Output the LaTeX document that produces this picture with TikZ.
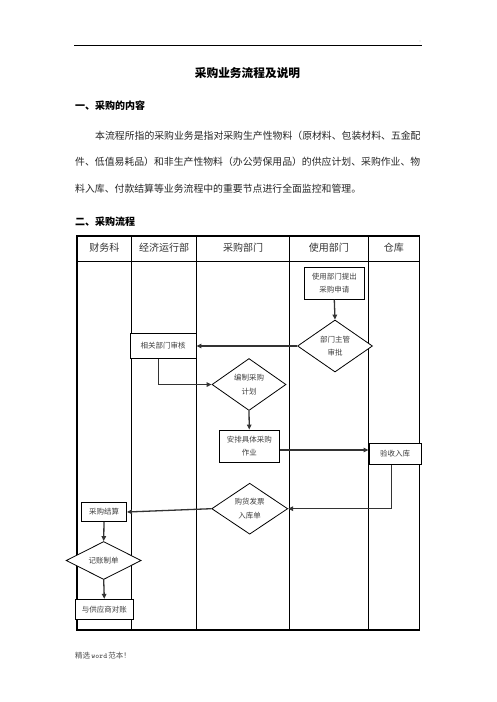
\documentclass[tikz,border=0pt]{standalone}
\usepackage{fontspec}
\newfontfamily\cjk{Noto Sans CJK SC}
\usetikzlibrary{shapes.geometric,arrows.meta}
\begin{document}
\begin{tikzpicture}[x=1pt,y=-1pt,
  lane/.style={line width=1.1pt},
  boxn/.style={draw,line width=0.9pt,fill=white,inner sep=0pt,align=center,
    font=\cjk\fontsize{7.5}{13.3}\selectfont,text=black!75},
  dia/.style={draw,diamond,line width=0.8pt,fill=white,inner sep=0pt,aspect=1.5,align=center,
    font=\cjk\fontsize{7.5}{13.3}\selectfont,text=black!75},
  arr/.style={line width=1.3pt,draw=black!80,-{Triangle[length=5pt,width=4.5pt]}},
  hdr/.style={font=\cjk\fontsize{10}{12}\selectfont,text=black!80},
  para/.style={anchor=west,inner sep=0pt,font=\cjk\fontsize{9.86}{12}\selectfont,text=black!85},
  head/.style={anchor=west,inner sep=0pt,font=\cjk\bfseries\fontsize{10}{12}\selectfont}
]
\useasboundingbox (0,0) rectangle (496,702);
\fill[white] (0,0) rectangle (496,702);
% page header rule
\draw[line width=0.9pt] (74,45) -- (422,45);
\fill[black!60] (420,41) circle (0.4);
% title and text
\node[font=\cjk\bfseries\fontsize{11.7}{14}\selectfont] (title) at (247.5,73) {采购业务流程及说明};
\node[head] (h1) at (75,106) {一、采购的内容};
\node[para] (p1) at (95,136) {本流程所指的采购业务是指对采购生产性物料（原材料、包装材料、五金配};
\node[para] (p2) at (75,162) {件、低值易耗品）和非生产性物料（办公劳保用品）的供应计划、采购作业、物};
\node[para] (p3) at (75,189) {料入库、付款结算等业务流程中的重要节点进行全面监控和管理。};
\node[head] (h2) at (75,222) {二、采购流程};
% table
\draw[lane] (77,236) rectangle (419.3,630);
\draw[lane] (77,261.7) -- (419.3,261.7);
\foreach \xx in {131.7,196.7,289.3,368.3} \draw[lane] (\xx,236) -- (\xx,630);
\node[hdr] (c1) at (104.3,248) {财务科};
\node[hdr] (c2) at (164.2,248) {经济运行部};
\node[hdr] (c3) at (243,248) {采购部门};
\node[hdr] (c4) at (328.8,248) {使用部门};
\node[hdr] (c5) at (393.8,248) {仓库};
% nodes
\node[boxn,minimum width=60,minimum height=32] (req) at (334.3,283.3) {使用部门提出\\采购申请};
\node[dia,minimum width=75,minimum height=52] (appr) at (335,346) {部门主管\\审批};
\node[boxn,minimum width=66,minimum height=25] (audit) at (163,346) {相关部门审核};
\node[dia,minimum width=74,minimum height=52] (plan) at (249,384.5) {编制采购\\计划};
\node[boxn,minimum width=60,minimum height=32] (arrange) at (249.3,446) {安排具体采购\\作业};
\node[boxn,minimum width=52,minimum height=21] (store) at (395,454) {验收入库};
\node[dia,minimum width=76,minimum height=51] (inv) at (249.7,508.7) {购货发票\\入库单};
\node[boxn,minimum width=45,minimum height=19] (settle) at (104,512) {采购结算};
\node[dia,minimum width=75,minimum height=38,aspect=2] (book) at (103.7,560.5) {记账制单};
\node[boxn,minimum width=58,minimum height=20] (recon) at (104.3,609.3) {与供应商对账};
% connectors
\draw[arr] (req.south) -- (appr.north);
\draw[arr] (appr.west) -- (audit.east);
\draw[arr] ([xshift=-4.7pt]audit.south) |- (plan.west);
\draw[arr] (plan.south) -- (arrange.north);
\draw[arr] ([yshift=-4pt]arrange.east) -- ([yshift=4pt]store.west);
\draw[arr] ([xshift=-3.3pt]store.south) |- (inv.east);
\draw[arr] (inv.west) -- (settle.east);
\draw[arr] (settle.south) -- (book.north);
\draw[arr] (book.south) -- (recon.north);
% footer
\node[anchor=west,inner sep=0pt,text=black!70] (foot) at (75,656) {\cjk\fontsize{7.5}{9}\selectfont 精选\,\texttt{\bfseries\fontsize{7.5}{9}\selectfont word}\,范本！};
\end{tikzpicture}
\end{document}
